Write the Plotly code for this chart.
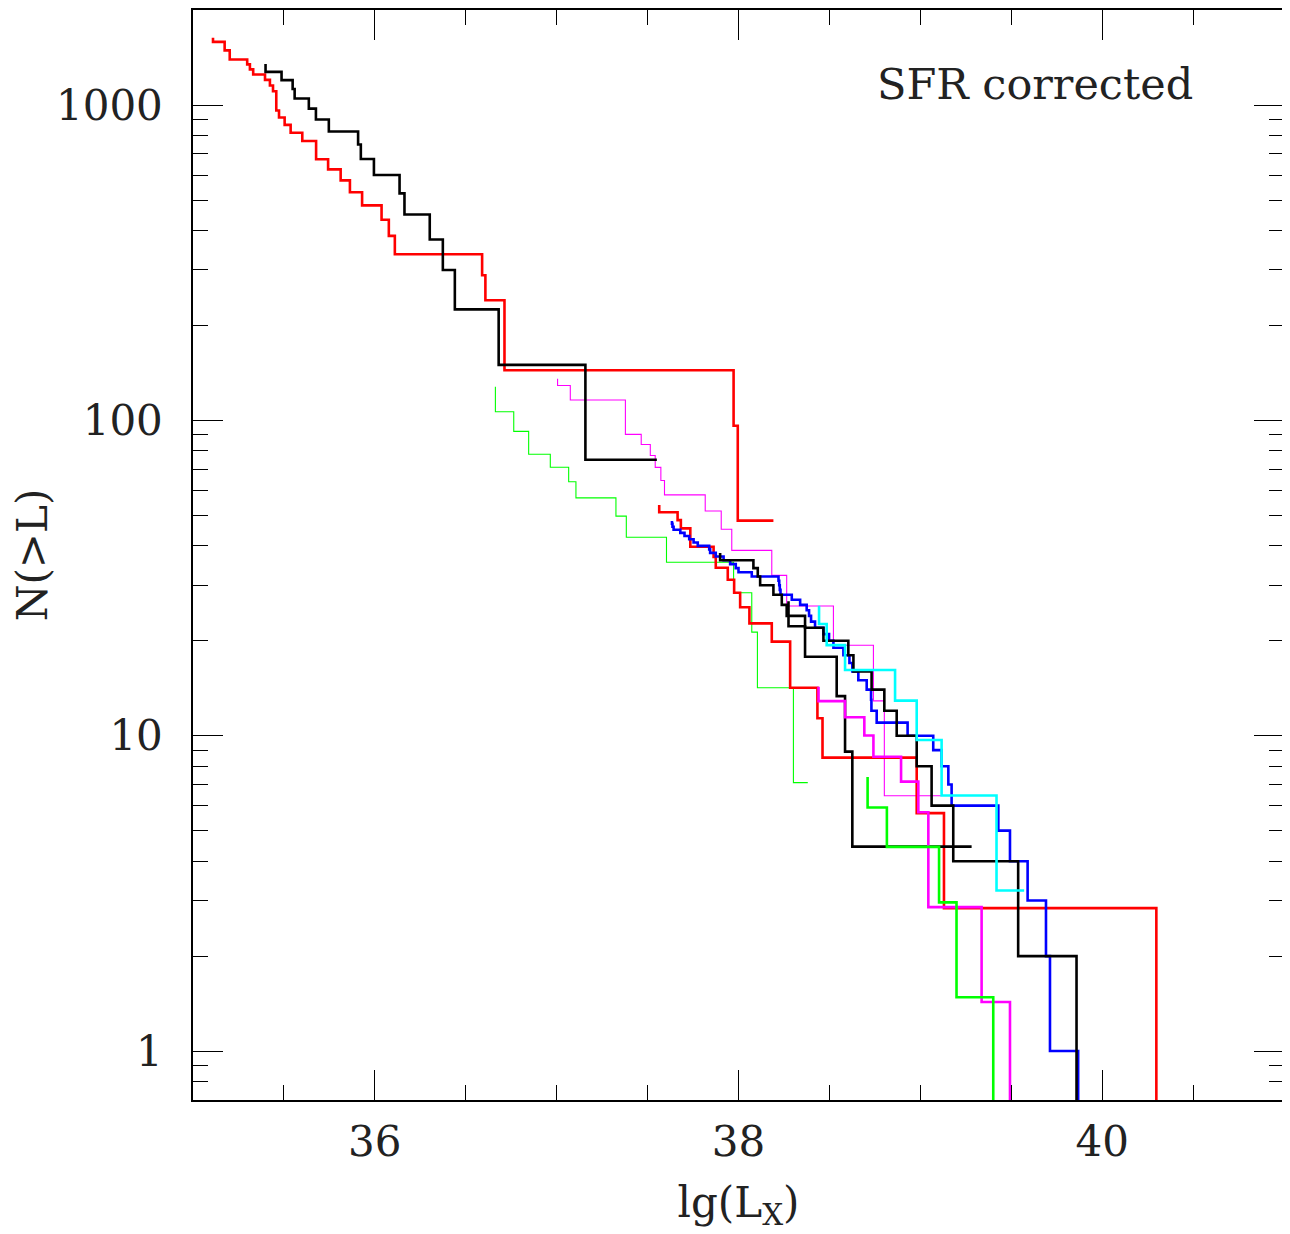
import plotly.graph_objects as go

# ---- data: step edges (lg Lx), source counts, and per-source weight (SFR corrected) ----
red1_lx = [35.110, 35.174, 35.202, 35.298, 35.313, 35.331, 35.396, 35.423, 35.440, 35.458,
           35.473, 35.504, 35.537, 35.601, 35.677, 35.743, 35.812, 35.863, 35.930, 36.037,
           36.077, 36.110, 36.590, 36.608, 36.713, 37.973, 37.996, 38.192]
red1_n = [34, 33, 31, 29, 28, 27, 26, 25, 24, 23, 20, 19, 18, 17, 16, 14, 13, 12, 11, 10,
          9, 8, 7, 6, 5, 3, 2, 1]
red1_w = 48.1

black1_lx = [35.399, 35.487, 35.548, 35.559, 35.637, 35.676, 35.747, 35.908, 35.923, 35.995,
             36.136, 36.163, 36.302, 36.374, 36.440, 36.681, 37.158, 37.551]
black1_n = [18, 17, 16, 15, 14, 13, 12, 11, 10, 9, 8, 7, 6, 5, 4, 3, 2, 1]
black1_w = 75.0

green_thin_lx = [36.663, 36.764, 36.846, 36.965, 37.066, 37.106, 37.326, 37.383, 37.604,
                 37.973, 38.073, 38.104, 38.302, 38.381]
green_thin_n = [18, 15, 13, 11, 10, 9, 8, 7, 6, 5, 4, 3, 2, 1]
green_thin_w = 7.1

mag_thin_lx = [37.005, 37.075, 37.378, 37.465, 37.515, 37.542, 37.573, 37.593, 37.817,
               37.905, 37.963, 38.183, 38.265, 38.522, 38.742, 38.802, 39.115]
mag_thin_n = [21, 20, 18, 14, 13, 12, 11, 10, 9, 8, 7, 6, 5, 4, 3, 2, 1]
mag_thin_w = 6.45

red2_lx = [37.564, 37.665, 37.683, 37.735, 37.863, 37.875, 37.941, 37.976, 38.009, 38.060,
           38.183, 38.284, 38.434, 38.462, 38.980, 39.130, 40.298]
red2_n = [19, 18, 17, 16, 14, 13, 12, 11, 10, 9, 8, 7, 5, 4, 3, 2, 1]
red2_w = 2.84

blue_lx = [37.634, 37.637, 37.643, 37.680, 37.703, 37.729, 37.753, 37.776, 37.839, 37.844,
           37.875, 37.918, 37.954, 37.985, 38.000, 38.073, 38.220, 38.224, 38.227, 38.231,
           38.293, 38.339, 38.375, 38.388, 38.399, 38.421, 38.467, 38.498, 38.522, 38.577,
           38.610, 38.626, 38.659, 38.705, 38.729, 38.731, 38.760, 38.930, 39.071, 39.117,
           39.154, 39.172, 39.429, 39.493, 39.590, 39.691, 39.713, 39.868]
blue_n = [48, 47, 46, 45, 44, 43, 42, 41, 40, 39, 38, 37, 36, 35, 34, 33, 32, 31, 30, 29,
          28, 27, 26, 25, 24, 23, 22, 21, 20, 19, 18, 17, 16, 15, 14, 13, 12, 11, 10, 9,
          8, 7, 6, 5, 4, 3, 2, 1]
blue_w = 1.0

black2_lx = [37.899, 38.082, 38.106, 38.119, 38.192, 38.238, 38.265, 38.366, 38.467, 38.604,
             38.632, 38.732, 38.802, 38.870, 38.980, 39.062, 39.181, 39.538, 39.859]
black2_n = [19, 18, 17, 16, 15, 14, 13, 12, 11, 10, 9, 8, 7, 6, 5, 4, 3, 2, 1]
black2_w = 2.0

black3_lx = [38.275, 38.366, 38.540, 38.586, 38.626, 39.282]
black3_n = [6, 5, 4, 3, 2, 1]
black3_w = 4.45

cyan_lx = [38.443, 38.485, 38.586, 38.861, 38.980, 39.117, 39.419, 39.571]
cyan_n = [8, 7, 6, 5, 4, 3, 2, 1]
cyan_w = 3.23

mag_lx = [38.440, 38.586, 38.692, 38.742, 38.894, 38.989, 39.044, 39.337, 39.493]
mag_n = [10, 9, 8, 7, 6, 5, 4, 2, 1]
mag_w = 1.43

green_lx = [38.710, 38.816, 39.103, 39.199, 39.401]
green_n = [5, 4, 3, 2, 1]
green_w = 1.48

x_ticks = [36, 38, 40]
x_minor = [35.5, 36.5, 37, 37.5, 38.5, 39, 39.5, 40.5]
y_ticks = [1, 10, 100, 1000]
y_tick_text = ["1", "10", "100", "1000"]

# ---- figure ----
Y_FLOOR = 0.5  # below the visible range: curves that drop off the bottom

curves = [
    (green_thin_lx, green_thin_n, green_thin_w, "#00ff00", 1.1, False),
    (mag_thin_lx, mag_thin_n, mag_thin_w, "#ff00ff", 1.1, False),
    (red1_lx, red1_n, red1_w, "#ff0000", 2.6, False),
    (black1_lx, black1_n, black1_w, "#000000", 2.6, False),
    (red2_lx, red2_n, red2_w, "#ff0000", 2.6, True),
    (blue_lx, blue_n, blue_w, "#0000ff", 2.6, True),
    (black2_lx, black2_n, black2_w, "#000000", 2.6, True),
    (black3_lx, black3_n, black3_w, "#000000", 2.6, False),
    (cyan_lx, cyan_n, cyan_w, "#00ffff", 2.6, False),
    (mag_lx, mag_n, mag_w, "#ff00ff", 2.6, True),
    (green_lx, green_n, green_w, "#00ff00", 2.6, True),
]

fig = go.Figure()
for lx, n, w, col, lw, drop in curves:
    xs = list(lx)
    ys = [c * w for c in n]
    if drop:
        xs.append(lx[-1])
        ys.append(Y_FLOOR)
    fig.add_trace(go.Scatter(x=xs, y=ys, mode="lines",
                             line=dict(color=col, width=lw, shape="vh"),
                             showlegend=False, hoverinfo="skip"))

FONT = "DejaVu Serif"
TXT = "#222222"

# page body has an 8px margin, so the figure is 8px smaller than the window
fig.update_layout(
    width=1282, height=1226,
    margin=dict(l=185, r=6, t=2, b=134, autoexpand=False),
    paper_bgcolor="white", plot_bgcolor="white",
    font=dict(family=FONT, size=42, color=TXT),
    showlegend=False,
)

fig.update_xaxes(
    range=[35, 41],
    tickmode="array", tickvals=x_ticks, ticktext=[str(v) for v in x_ticks],
    ticks="inside", ticklen=30, tickwidth=1, tickcolor="black",
    minor=dict(tickmode="array", tickvals=x_minor,
               ticks="inside", ticklen=15, tickwidth=1, tickcolor="black", showgrid=False),
    showline=True, linecolor="black", linewidth=1.5, mirror="allticks",
    showgrid=False, zeroline=False, automargin=False,
    tickfont=dict(family=FONT, size=42, color=TXT),
    ticklabelstandoff=4,
    title=dict(text="lg(L<sub>X</sub>)", font=dict(family=FONT, size=42, color=TXT),
               standoff=22),
)

minor_y = []
for dec in [0.1, 1, 10, 100, 1000]:
    for k in range(2, 10):
        minor_y.append(k * dec)

fig.update_yaxes(
    type="log", range=[-0.1554, 3.3017],
    tickmode="array", tickvals=y_ticks, ticktext=y_tick_text,
    ticks="inside", ticklen=30, tickwidth=1, tickcolor="black",
    minor=dict(tickmode="array", tickvals=minor_y,
               ticks="inside", ticklen=15, tickwidth=1, tickcolor="black", showgrid=False),
    showline=True, linecolor="black", linewidth=1.5, mirror="allticks",
    showgrid=False, zeroline=False, automargin=False,
    tickfont=dict(family=FONT, size=42, color=TXT),
    ticklabelstandoff=20,
    title=dict(text="N(>L)", font=dict(family=FONT, size=42, color=TXT),
               standoff=8),
)

fig.add_annotation(
    text="SFR corrected", xref="paper", yref="paper",
    x=(1035 - 193) / 1091, y=(1100 - 84) / 1090,
    xanchor="center", yanchor="middle", showarrow=False,
    font=dict(family=FONT, size=43, color=TXT),
)

fig.write_html("out.html")
